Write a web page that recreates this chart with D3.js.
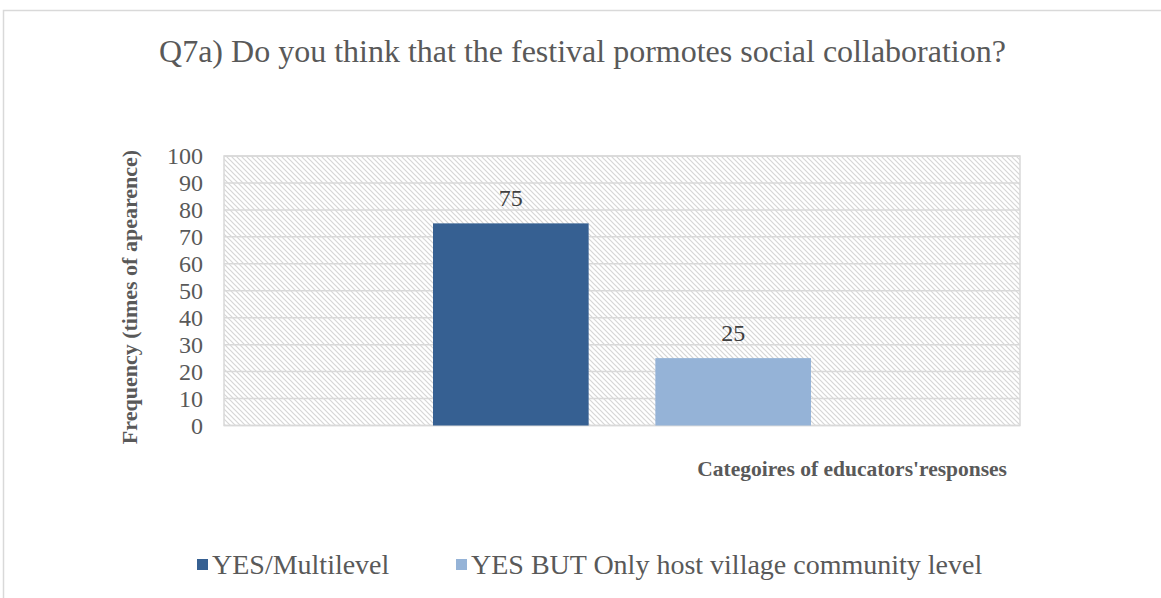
<!DOCTYPE html>
<html>
<head>
<meta charset="utf-8">
<script src="https://cdn.jsdelivr.net/npm/d3@7"></script>
<style>
  html, body { margin: 0; padding: 0; background: #fff; }
  svg { display: block; }
  svg text { font-family: "Liberation Serif", "Times New Roman", serif; }
</style>
</head>
<body>
<svg id="chart" width="1161" height="598"></svg>
<script>
// Chart data
const titleText = "Q7a) Do you think that the festival pormotes social collaboration?";
const yAxisTitle = "Frequency (times of apearence)";
const xAxisTitle = "Categoires of educators'responses";
const category = ["Categoires of educators'responses"];
const seriesNames = ["YES/Multilevel", "YES BUT Only host village community level"];
const seriesValues = [75, 25];
const seriesColors = ["#366092", "#95b3d7"];
const yTicks = [0, 10, 20, 30, 40, 50, 60, 70, 80, 90, 100];

const svg = d3.select("#chart");
const W = 1161, H = 598;
const plot = { left: 224, right: 1020, top: 156, bottom: 425.5 };
const font = "Liberation Serif, Times New Roman, serif";
const textGray = "#595959";
const gridGray = "#d9d9d9";

// Outer chart border
svg.append("rect")
  .attr("x", 3.5).attr("y", 10.5)
  .attr("width", W + 10).attr("height", H + 10)
  .attr("fill", "#fff").attr("stroke", gridGray).attr("stroke-width", 1.5);

// Diagonal hatch pattern for the plot area
const defs = svg.append("defs");
const pat = defs.append("pattern")
  .attr("id", "hatch")
  .attr("patternUnits", "userSpaceOnUse")
  .attr("width", 5).attr("height", 5);
pat.append("rect").attr("width", 5).attr("height", 5).attr("fill", "#fff");
pat.append("path")
  .attr("d", "M0,0 L5,5 M-1,4 L1,6 M4,-1 L6,1")
  .attr("stroke", "#d6d6d6").attr("stroke-width", 1.2);

// Scales: one category, two series clustered inside it
const y = d3.scaleLinear().domain([0, 100]).range([plot.bottom, plot.top]);
const x0 = d3.scaleBand().domain(category).range([plot.left, plot.right]);
const x1 = d3.scaleBand().domain(seriesNames)
  .range([209, x0.bandwidth() - 209]).paddingInner(0.3).paddingOuter(0);

// Plot background
svg.append("rect")
  .attr("x", plot.left).attr("y", plot.top)
  .attr("width", plot.right - plot.left).attr("height", plot.bottom - plot.top)
  .attr("fill", "url(#hatch)");

// Gridlines
svg.append("g").selectAll("line").data(yTicks).join("line")
  .attr("x1", plot.left).attr("x2", plot.right)
  .attr("y1", d => y(d)).attr("y2", d => y(d))
  .attr("stroke", gridGray).attr("stroke-width", 1.5);

// Plot area border
svg.append("rect")
  .attr("x", plot.left).attr("y", plot.top)
  .attr("width", plot.right - plot.left).attr("height", plot.bottom - plot.top)
  .attr("fill", "none").attr("stroke", gridGray).attr("stroke-width", 1.5);

// Y axis tick labels
const yAxis = d3.axisLeft(y).tickValues(yTicks).tickSize(0).tickPadding(0);
const gy = svg.append("g").attr("transform", `translate(${plot.left - 21},0)`).call(yAxis);
gy.attr("font-family", null).attr("font-size", null);
gy.select(".domain").remove();
gy.selectAll("text")
  .style("font-family", font).attr("font-size", 24).attr("fill", textGray)
  .attr("dy", "0.33em");

// Bars with value labels
const gBars = svg.append("g").attr("transform", `translate(${x0(category[0])},0)`);
gBars.selectAll("rect").data(seriesNames).join("rect")
  .attr("x", d => x1(d))
  .attr("y", (d, i) => y(seriesValues[i]))
  .attr("width", x1.bandwidth())
  .attr("height", (d, i) => y(0) - y(seriesValues[i]))
  .attr("fill", (d, i) => seriesColors[i]);
gBars.selectAll("text").data(seriesNames).join("text")
  .attr("x", d => x1(d) + x1.bandwidth() / 2)
  .attr("y", (d, i) => y(seriesValues[i]) - 17)
  .attr("text-anchor", "middle")
  .style("font-family", font).attr("font-size", 24).attr("fill", "#404040")
  .text((d, i) => seriesValues[i]);

// Title
svg.append("text")
  .attr("x", 582.5).attr("y", 62)
  .attr("text-anchor", "middle")
  .style("font-family", font).attr("font-size", 32).attr("fill", textGray)
  .text(titleText);

// Axis titles
svg.append("text")
  .attr("transform", `translate(137,297) rotate(-90)`)
  .attr("text-anchor", "middle")
  .style("font-family", font).attr("font-size", 22).attr("font-weight", "bold").attr("fill", textGray)
  .text(yAxisTitle);

svg.append("text")
  .attr("x", 1007).attr("y", 476)
  .attr("text-anchor", "end")
  .style("font-family", font).attr("font-size", 21.5).attr("font-weight", "bold").attr("fill", textGray)
  .text(xAxisTitle);

// Legend
const legendX = [197, 456];
const lg = svg.append("g");
seriesNames.forEach((name, i) => {
  lg.append("rect")
    .attr("x", legendX[i]).attr("y", 559)
    .attr("width", 11).attr("height", 11)
    .attr("fill", seriesColors[i]);
  lg.append("text")
    .attr("x", legendX[i] + 15).attr("y", 574)
    .style("font-family", font).attr("font-size", 28).attr("fill", textGray)
    .text(name);
});
</script>
</body>
</html>
